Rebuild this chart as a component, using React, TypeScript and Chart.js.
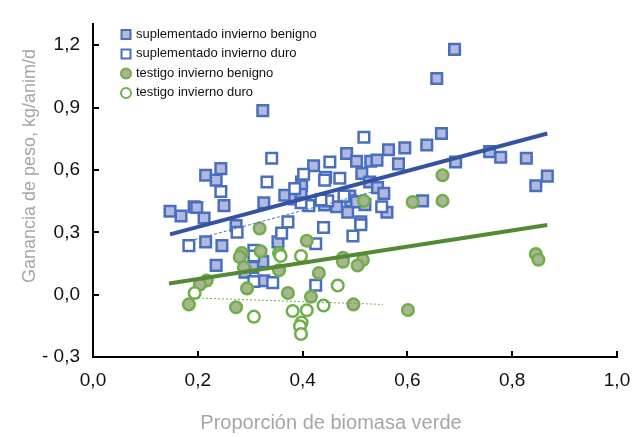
import React, { useEffect, useRef } from 'react';
import { Chart, registerables } from 'chart.js';

Chart.register(...registerables);

const FONT = "'Liberation Sans', Arial, sans-serif";

// axis ticks
const xTicks = [0, 0.2, 0.4, 0.6, 0.8, 1.0];
const yTicks = [-0.3, 0, 0.3, 0.6, 0.9, 1.2];

const seriesLabels = [
  'suplementado invierno benigno',
  'suplementado invierno duro',
  'testigo invierno benigno',
  'testigo invierno duro',
];

const xTitle = 'Proporción de biomasa verde';
const yTitle = 'Ganancia de peso, kg/anim/d';

// [proporción de biomasa verde, ganancia de peso kg/anim/d]
const supBenigno: [number, number][] = [
  [0.69, 1.18], [0.656, 1.04], [0.324, 0.885], [0.665, 0.775], [0.637, 0.72],
  [0.595, 0.706], [0.564, 0.697], [0.484, 0.679], [0.757, 0.688], [0.778, 0.661],
  [0.827, 0.656], [0.692, 0.638], [0.421, 0.62], [0.503, 0.642], [0.53, 0.642],
  [0.542, 0.647], [0.583, 0.629], [0.244, 0.606], [0.215, 0.574], [0.235, 0.551],
  [0.398, 0.542], [0.398, 0.524], [0.513, 0.583], [0.528, 0.542], [0.543, 0.515],
  [0.555, 0.487], [0.366, 0.478], [0.326, 0.442], [0.25, 0.428], [0.193, 0.423],
  [0.198, 0.419], [0.147, 0.401], [0.168, 0.378], [0.212, 0.369], [0.49, 0.474],
  [0.492, 0.451], [0.503, 0.446], [0.519, 0.433], [0.486, 0.396], [0.561, 0.396],
  [0.465, 0.423], [0.442, 0.432], [0.629, 0.451], [0.867, 0.57], [0.845, 0.524],
  [0.511, 0.35], [0.353, 0.254], [0.215, 0.254], [0.246, 0.236], [0.324, 0.159],
  [0.235, 0.141], [0.305, 0.131], [0.29, 0.108], [0.326, 0.067], [0.385, 0.46],
  [0.397, 0.483], [0.273, 0.332],
];

const supDuro: [number, number][] = [
  [0.517, 0.757], [0.452, 0.638], [0.402, 0.579], [0.444, 0.565], [0.442, 0.551],
  [0.471, 0.56], [0.385, 0.51], [0.479, 0.474], [0.448, 0.451], [0.435, 0.455],
  [0.412, 0.428], [0.397, 0.442], [0.551, 0.423], [0.372, 0.35], [0.36, 0.296],
  [0.44, 0.323], [0.496, 0.282], [0.511, 0.336], [0.341, 0.656], [0.332, 0.542],
  [0.244, 0.496], [0.183, 0.236], [0.275, 0.3], [0.307, 0.213], [0.307, 0.186],
  [0.307, 0.063], [0.343, 0.058], [0.425, 0.245], [0.425, 0.045],
];

const testBenigno: [number, number][] = [
  [0.318, 0.318], [0.517, 0.451], [0.61, 0.446], [0.667, 0.574], [0.667, 0.451],
  [0.408, 0.259], [0.284, 0.2], [0.28, 0.181], [0.32, 0.209], [0.355, 0.2],
  [0.288, 0.131], [0.355, 0.117], [0.217, 0.068], [0.204, 0.049], [0.294, 0.03],
  [0.372, 0.008], [0.183, -0.047], [0.273, -0.061], [0.431, 0.104], [0.477, 0.177],
  [0.477, 0.158], [0.515, 0.167], [0.505, 0.14], [0.416, -0.01], [0.497, -0.047],
  [0.601, -0.074], [0.845, 0.195], [0.85, 0.168],
];

const testDuro: [number, number][] = [
  [0.194, 0.008], [0.358, 0.186], [0.397, 0.186], [0.467, 0.044], [0.307, -0.106],
  [0.381, -0.079], [0.408, -0.075], [0.44, -0.052], [0.398, -0.134], [0.395, -0.152],
  [0.397, -0.189],
];

// regression lines (start, end)
const lineSupBenigno: [number, number][] = [[0.147, 0.29], [0.867, 0.775]];
const lineTestBenigno: [number, number][] = [[0.145, 0.054], [0.867, 0.335]];
const lineSupDuro: [number, number][] = [[0.185, 0.259], [0.534, 0.495]];
const lineTestDuro: [number, number][] = [[0.185, -0.015], [0.553, -0.047]];

const BLUE = '#4a6fc0';
const BLUE_FILL = '#b0b9de';
const BLUE_LINE = '#3553a3';
const GREEN = '#6fae48';
const GREEN_FILL = '#a9b490';
const GREEN_LINE = '#548a35';
const TITLE_GRAY = '#a6a6a6';

const toPts = (a: [number, number][]) => a.map(([x, y]) => ({ x, y }));
const fmt = (v: number) => (v < 0 ? '- ' : '') + Math.abs(v).toFixed(1).replace('.', ',');

// short tick marks pointing into the plot area
const innerTicks = {
  id: 'innerTicks',
  beforeDatasetsDraw(chart: any) {
    const { ctx, chartArea, scales } = chart;
    ctx.save();
    ctx.strokeStyle = '#000';
    ctx.lineWidth = 2;
    ctx.beginPath();
    scales.x.ticks.forEach((t: any) => {
      const px = Math.round(scales.x.getPixelForValue(t.value));
      ctx.moveTo(px, chartArea.bottom);
      ctx.lineTo(px, chartArea.bottom - 6);
    });
    scales.y.ticks.forEach((t: any) => {
      const py = Math.round(scales.y.getPixelForValue(t.value));
      ctx.moveTo(chartArea.left, py);
      ctx.lineTo(chartArea.left + 6, py);
    });
    ctx.stroke();
    ctx.restore();
  },
};

// axis titles
const axisTitles = {
  id: 'axisTitles',
  afterDraw(chart: any) {
    const { ctx } = chart;
    ctx.save();
    ctx.fillStyle = TITLE_GRAY;
    ctx.textAlign = 'center';
    ctx.textBaseline = 'middle';
    ctx.font = `20px ${FONT}`;
    ctx.fillText(xTitle, 331, 423);
    ctx.font = `18px ${FONT}`;
    ctx.translate(30, 166);
    ctx.rotate(-Math.PI / 2);
    ctx.fillText(yTitle, 0, 0);
    ctx.restore();
  },
};

// legend in the upper-left corner of the plot
const cornerLegend = {
  id: 'cornerLegend',
  afterDraw(chart: any) {
    const { ctx, chartArea } = chart;
    const x0 = chartArea.left + 33;
    const y0 = chartArea.top + 10;
    ctx.save();
    ctx.font = `13px ${FONT}`;
    ctx.textBaseline = 'middle';
    ctx.textAlign = 'left';
    chart.data.datasets.slice(0, 4).forEach((ds: any, i: number) => {
      const y = y0 + i * 19.5;
      ctx.lineWidth = 2;
      ctx.strokeStyle = ds.pointBorderColor;
      ctx.fillStyle = ds.pointBackgroundColor;
      ctx.beginPath();
      if (ds.pointStyle === 'rect') {
        ctx.rect(x0 - 4.5, y - 4.5, 9, 9);
      } else {
        ctx.arc(x0, y, 5, 0, Math.PI * 2);
      }
      ctx.fill();
      ctx.stroke();
      ctx.fillStyle = '#111';
      ctx.fillText(ds.label, x0 + 10, y);
    });
    ctx.restore();
  },
};

export default function App() {
  const canvasRef = useRef<HTMLCanvasElement | null>(null);

  useEffect(() => {
    if (!canvasRef.current) return;
    const pointDs = (label: string, data: [number, number][], rect: boolean, fill: string, border: string, order: number) => ({
      label,
      data: toPts(data),
      pointStyle: rect ? 'rect' : 'circle',
      pointRadius: rect ? 7.5 : 5.8,
      pointBorderWidth: 2.5,
      pointBorderColor: border,
      pointBackgroundColor: fill,
      borderColor: border,
      backgroundColor: fill,
      showLine: false,
      order,
    });
    const lineDs = (data: [number, number][], color: string, width: number, dash: number[]) => ({
      label: '',
      data: toPts(data),
      showLine: true,
      borderColor: color,
      borderWidth: width,
      borderDash: dash,
      pointRadius: 0,
      fill: false,
      order: 0,
    });

    const chart = new Chart(canvasRef.current, {
      type: 'scatter',
      data: {
        datasets: [
          pointDs(seriesLabels[0], supBenigno, true, BLUE_FILL, BLUE, 4),
          pointDs(seriesLabels[1], supDuro, true, '#ffffff', BLUE, 3),
          pointDs(seriesLabels[2], testBenigno, false, GREEN_FILL, GREEN, 2),
          pointDs(seriesLabels[3], testDuro, false, '#ffffff', GREEN, 1),
          lineDs(lineSupBenigno, BLUE_LINE, 4, []),
          lineDs(lineTestBenigno, GREEN_LINE, 4, []),
          lineDs(lineSupDuro, BLUE, 1, [3, 2]),
          lineDs(lineTestDuro, GREEN, 1, [2, 2]),
        ] as any,
      },
      options: {
        animation: false,
        responsive: false,
        events: [],
        layout: { padding: { top: 7, right: 26, left: 0, bottom: 0 } },
        plugins: {
          legend: { display: false },
          tooltip: { enabled: false },
        },
        scales: {
          x: {
            type: 'linear',
            min: 0,
            max: 1,
            afterBuildTicks: (s: any) => { s.ticks = xTicks.map((v) => ({ value: v })); },
            afterFit: (s: any) => { s.height = 80; },
            grid: { display: false, drawTicks: false },
            border: { display: true, color: '#000', width: 2 },
            ticks: {
              callback: (v: any) => fmt(Number(v)),
              font: { family: FONT, size: 19 },
              color: '#111',
              padding: 12,
              maxRotation: 0,
              autoSkip: false,
            },
          },
          y: {
            type: 'linear',
            min: -0.3,
            max: 1.3,
            afterBuildTicks: (s: any) => { s.ticks = yTicks.map((v) => ({ value: v })); },
            afterFit: (s: any) => { s.width = 93; },
            grid: { display: false, drawTicks: false },
            border: { display: true, color: '#000', width: 2 },
            ticks: {
              callback: (v: any) => fmt(Number(v)),
              font: { family: FONT, size: 19 },
              color: '#111',
              padding: 13,
              autoSkip: false,
            },
          },
        },
      } as any,
      plugins: [innerTicks, axisTitles, cornerLegend],
    });
    return () => chart.destroy();
  }, []);

  return (
    <div style={{ position: 'fixed', left: 0, top: 0, width: 643, height: 437, background: '#fff' }}>
      <canvas ref={canvasRef} width={643} height={437} style={{ display: 'block', width: 643, height: 437 }} />
    </div>
  );
}
